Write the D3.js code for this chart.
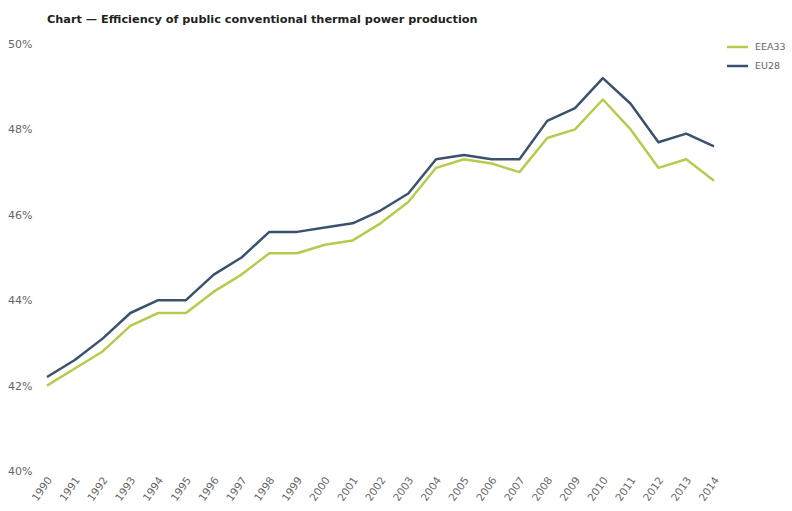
<!DOCTYPE html>
<html>
<head>
<meta charset="utf-8">
<script src="https://cdn.jsdelivr.net/npm/d3@7"></script>
<style>
  body { margin: 0; background: #fff; }
  svg text { font-family: "DejaVu Sans", Verdana, sans-serif; }
</style>
</head>
<body>
<div class="chart"></div>
<script>
const width = 792;
const height = 511;
const margin = {top: 44, right: 78, bottom: 40, left: 47};

const years = d3.range(1990, 2015).map(String);
const eea33 = [42.0, 42.4, 42.8, 43.4, 43.7, 43.7, 44.2, 44.6, 45.1, 45.1, 45.3, 45.4, 45.8, 46.3, 47.1, 47.3, 47.2, 47.0, 47.8, 48.0, 48.7, 48.0, 47.1, 47.3, 46.8];
const eu28 = [42.2, 42.6, 43.1, 43.7, 44.0, 44.0, 44.6, 45.0, 45.6, 45.6, 45.7, 45.8, 46.1, 46.5, 47.3, 47.4, 47.3, 47.3, 48.2, 48.5, 49.2, 48.6, 47.7, 47.9, 47.6];
const yTicks = [40, 42, 44, 46, 48, 50];
const seriesNames = ['EEA33', 'EU28'];
const colors = ['#b6cb4d', '#3b526c'];

const series = [eea33, eu28]; // EEA33 drawn first, EU28 on top

const svg = d3.select('.chart')
  .append('svg')
  .attr('width', width)
  .attr('height', height);

const xScale = d3.scalePoint()
  .domain(years)
  .range([margin.left, 714]);

const yScale = d3.scaleLinear()
  .domain([40, 50])
  .range([471, margin.top]);

// title
svg.append('text')
  .attr('x', 47)
  .attr('y', 23)
  .attr('font-size', 11.3)
  .attr('font-weight', 'bold')
  .attr('fill', '#222')
  .text('Chart \u2014 Efficiency of public conventional thermal power production');

// y axis: labels only
const yAxis = d3.axisLeft(yScale)
  .tickValues(yTicks)
  .tickSize(0)
  .tickPadding(0)
  .tickFormat(d => d + '%');

svg.append('g')
  .attr('transform', 'translate(8,0)')
  .call(yAxis)
  .call(g => g.select('.domain').remove())
  .call(g => g.selectAll('text')
    .attr('text-anchor', 'start')
    .attr('font-size', 11)
    .attr('fill', '#666'));

// x axis: rotated year labels
const xAxis = d3.axisBottom(xScale).tickSize(0).tickPadding(0);

svg.append('g')
  .attr('transform', 'translate(2,478)')
  .call(xAxis)
  .call(g => g.select('.domain').remove())
  .call(g => g.selectAll('text')
    .attr('text-anchor', 'end')
    .attr('dy', '0.35em')
    .attr('transform', 'rotate(-55)')
    .attr('font-size', 10.5)
    .attr('fill', '#666'));

const line = d3.line()
  .x((d, i) => xScale(years[i]))
  .y(d => yScale(d));

svg.selectAll('.series')
  .data(series)
  .enter().append('path')
    .attr('class', 'series')
    .attr('d', line)
    .attr('fill', 'none')
    .attr('stroke', (d, i) => colors[i])
    .attr('stroke-width', 2.5)
    .attr('stroke-linejoin', 'round');

// legend
const legend = svg.append('g').attr('transform', 'translate(727,47)');
seriesNames.forEach((name, i) => {
  const row = legend.append('g').attr('transform', `translate(0,${i * 19})`);
  row.append('line')
    .attr('x1', 0).attr('x2', 21)
    .attr('stroke', colors[i])
    .attr('stroke-width', 2.5);
  row.append('text')
    .attr('x', 28)
    .attr('dy', '0.35em')
    .attr('font-size', 9.5)
    .attr('fill', '#666')
    .text(name);
});
</script>
</body>
</html>
